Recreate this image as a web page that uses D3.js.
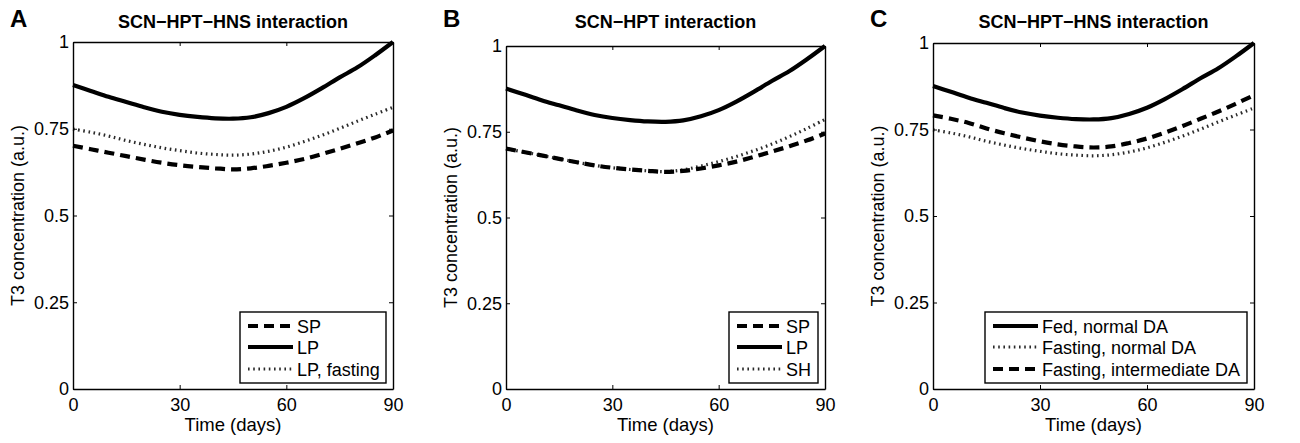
<!DOCTYPE html>
<html><head><meta charset="utf-8">
<script src="https://cdn.jsdelivr.net/npm/d3@7"></script>
<style>
html,body{margin:0;padding:0;background:#fff;}
svg{display:block;font-family:"Liberation Sans",Arial,sans-serif;}
</style></head>
<body>
<svg id="chart" width="1300" height="443"></svg>
<script>
// ---- data ----
const days = [0,5,10,15,20,25,30,35,40,45,50,55,60,65,70,75,80,85,90];
const lpValues        = [0.876,0.859,0.842,0.827,0.812,0.799,0.790,0.784,0.780,0.779,0.783,0.795,0.813,0.838,0.867,0.898,0.927,0.962,1.000];
const spValues        = [0.701,0.691,0.681,0.671,0.661,0.652,0.645,0.640,0.636,0.633,0.636,0.643,0.652,0.663,0.677,0.692,0.708,0.725,0.745];
const lpFastingValues = [0.749,0.740,0.729,0.716,0.705,0.695,0.687,0.680,0.676,0.674,0.677,0.685,0.697,0.713,0.731,0.751,0.772,0.792,0.812];
const shValues        = [0.701,0.691,0.681,0.671,0.661,0.652,0.645,0.640,0.636,0.634,0.639,0.650,0.663,0.678,0.695,0.714,0.736,0.760,0.786];
const fastingIntermediateDAValues = [0.791,0.781,0.769,0.753,0.739,0.727,0.716,0.707,0.701,0.698,0.701,0.711,0.724,0.741,0.760,0.781,0.802,0.825,0.849];
const xTicks = [0,30,60,90];
const yTicks = [0,0.25,0.5,0.75,1];
const yTickLabels = ["0","0.25","0.5","0.75","1"];
const panelLetters = ["A","B","C"];
const panelTitles = ["SCN\u2212HPT\u2212HNS interaction","SCN\u2212HPT interaction","SCN\u2212HPT\u2212HNS interaction"];
const xLabel = "Time (days)";
const yLabel = "T3 concentration (a.u.)";

const styles = {
  solid:  {stroke:"#000", width:4.2, dash:null},
  dashed: {stroke:"#000", width:4.2, dash:"10,6"},
  dotted: {stroke:"#2a2a2a", width:3.2, dash:"1.6,3.6"}
};

const panels = [
  {box:{l:73,r:393,t:42,b:389}, legend:{x:240,y:312,w:146,h:71},
   series:[{name:"LP",vals:lpValues,st:"solid"},{name:"LP, fasting",vals:lpFastingValues,st:"dotted"},{name:"SP",vals:spValues,st:"dashed"}],
   legendOrder:[{name:"SP",st:"dashed"},{name:"LP",st:"solid"},{name:"LP, fasting",st:"dotted"}]},
  {box:{l:506,r:825,t:46,b:389}, legend:{x:729,y:312,w:89,h:71},
   series:[{name:"LP",vals:lpValues,st:"solid"},{name:"SH",vals:shValues,st:"dotted"},{name:"SP",vals:spValues,st:"dashed"}],
   legendOrder:[{name:"SP",st:"dashed"},{name:"LP",st:"solid"},{name:"SH",st:"dotted"}]},
  {box:{l:933,r:1254,t:43,b:389}, legend:{x:985,y:312,w:262,h:71},
   series:[{name:"Fed, normal DA",vals:lpValues,st:"solid"},{name:"Fasting, normal DA",vals:lpFastingValues,st:"dotted"},{name:"Fasting, intermediate DA",vals:fastingIntermediateDAValues,st:"dashed"}],
   legendOrder:[{name:"Fed, normal DA",st:"solid"},{name:"Fasting, normal DA",st:"dotted"},{name:"Fasting, intermediate DA",st:"dashed"}]}
];

const svg = d3.select("#chart");

panels.forEach((p,i)=>{
  const b = p.box;
  const x = d3.scaleLinear().domain([0,90]).range([b.l,b.r]);
  const y = d3.scaleLinear().domain([0,1]).range([b.b,b.t]);
  const g = svg.append("g");

  // panel letter
  g.append("text").attr("x", b.l-63).attr("y", 27)
    .attr("font-size",24).attr("font-weight","bold").text(panelLetters[i]);
  // title
  g.append("text").attr("x",(b.l+b.r)/2).attr("y",28).attr("text-anchor","middle")
    .attr("font-size",18).attr("font-weight","bold").text(panelTitles[i]);

  // lines
  const line = d3.line().x((d,k)=>x(days[k])).y(d=>y(d)).curve(d3.curveCatmullRom.alpha(0.5));
  p.series.forEach(s=>{
    const st = styles[s.st];
    g.append("path").datum(s.vals).attr("d",line).attr("fill","none")
      .attr("stroke",st.stroke).attr("stroke-width",st.width)
      .attr("stroke-dasharray",st.dash).attr("stroke-linecap","butt");
  });

  // axes (ticks inward)
  const ax = g.append("g").attr("transform",`translate(0,${b.b})`)
    .call(d3.axisBottom(x).tickValues(xTicks).tickSizeInner(-4).tickSizeOuter(0).tickPadding(9));
  const axTop = g.append("g").attr("transform",`translate(0,${b.t})`)
    .call(d3.axisTop(x).tickValues(xTicks).tickSizeInner(-4).tickSizeOuter(0).tickFormat(""));
  const ay = g.append("g").attr("transform",`translate(${b.l},0)`)
    .call(d3.axisLeft(y).tickValues(yTicks).tickSizeInner(-4).tickSizeOuter(0).tickPadding(4)
      .tickFormat((d,k)=>yTickLabels[k]));
  const ayR = g.append("g").attr("transform",`translate(${b.r},0)`)
    .call(d3.axisRight(y).tickValues(yTicks).tickSizeInner(-4).tickSizeOuter(0).tickFormat(""));
  [ax,axTop,ay,ayR].forEach(a=>{
    a.selectAll("path").attr("stroke","#000").attr("stroke-width",1.4);
    a.selectAll("line").attr("stroke","#000").attr("stroke-width",1);
    a.selectAll("text").attr("font-size",18).attr("fill","#000")
      .attr("font-family",'"Liberation Sans",Arial,sans-serif');
  });

  // axis labels
  g.append("text").attr("x",(b.l+b.r)/2).attr("y",431).attr("text-anchor","middle")
    .attr("font-size",18.5).text(xLabel);
  g.append("text").attr("transform",`translate(${b.l-49},${(b.t+b.b)/2}) rotate(-90)`)
    .attr("text-anchor","middle").attr("font-size",18).text(yLabel);

  // legend
  const L = p.legend;
  const lg = g.append("g");
  lg.append("rect").attr("x",L.x).attr("y",L.y).attr("width",L.w).attr("height",L.h)
    .attr("fill","#fff").attr("stroke","#000").attr("stroke-width",1.4);
  const rowY = [L.y+14, L.y+35, L.y+57];
  p.legendOrder.forEach((e,k)=>{
    const st = styles[e.st];
    lg.append("line").attr("x1",L.x+8).attr("x2",L.x+53).attr("y1",rowY[k]).attr("y2",rowY[k])
      .attr("stroke",st.stroke).attr("stroke-width",st.width).attr("stroke-dasharray",st.dash);
    lg.append("text").attr("x",L.x+57).attr("y",rowY[k]+7).attr("font-size",18).text(e.name);
  });
});
</script>
</body></html>
